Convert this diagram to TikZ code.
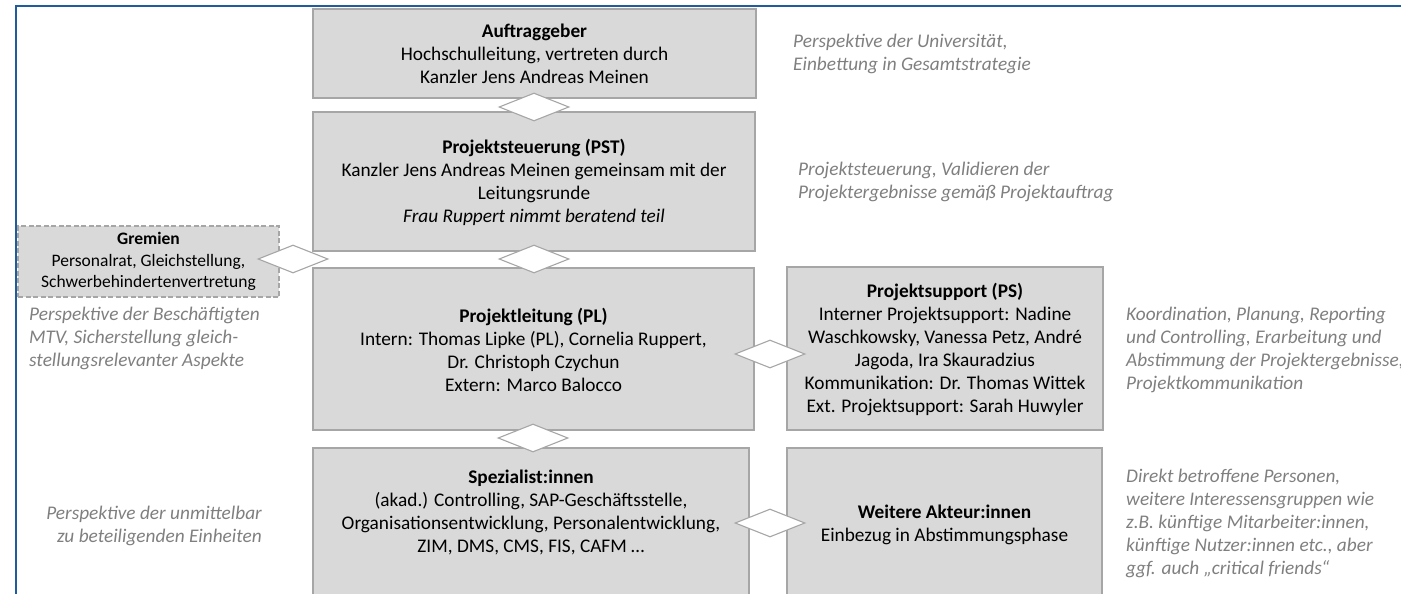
\documentclass[tikz,border=0pt]{standalone}
\usepackage{fontspec}
\setmainfont{Carlito}
\usetikzlibrary{shapes.geometric}
\definecolor{boxfill}{HTML}{D9D9D9}
\definecolor{boxline}{HTML}{A6A6A6}
\definecolor{notegray}{HTML}{7F7F7F}
\definecolor{framebl}{HTML}{1F5C9E}
\tikzset{
  box/.style={draw=boxline, fill=boxfill, line width=1.3pt, inner sep=0pt},
  dbox/.style={box, dashed, dash pattern=on 5pt off 2.5pt},
  link/.style={diamond, draw=boxline, fill=white, line width=1.1pt, inner sep=0pt, minimum width=70pt, minimum height=28pt},
  body/.style={align=center, font=\fontsize{19.3}{23}\selectfont, inner sep=0pt},
  smallbody/.style={align=center, font=\fontsize{17.5}{21.5}\selectfont, inner sep=0pt},
  note/.style={text=notegray, font=\fontsize{19.3}{23}\selectfont\itshape, inner sep=0pt},
}
\begin{document}
\begin{tikzpicture}[x=1pt,y=-1pt]
\useasboundingbox (0,0) rectangle (1401,594);
\clip (0,0) rectangle (1401,594);
% frame
\draw[framebl, line width=2.6pt] (16,620) -- (16,6) -- (1420,6);
% boxes
\node[box, minimum width=443pt, minimum height=89pt] (auf) at (534.5,53.5) {};
\node[box, minimum width=442pt, minimum height=139pt] (pst) at (534,181.5) {};
\node[box, minimum width=441pt, minimum height=162pt] (pl) at (533.5,349) {};
\node[box, minimum width=436pt, minimum height=172pt] (spez) at (531,534) {};
\node[box, minimum width=316pt, minimum height=163pt] (ps) at (945,348.5) {};
\node[box, minimum width=315pt, minimum height=172pt] (weit) at (944.5,534) {};
\node[dbox, minimum width=261pt, minimum height=71pt] (grem) at (148.5,261.5) {};
% texts
\node[body] (auft) at (auf) {\textbf{Auftraggeber}\\Hochschulleitung, vertreten durch\\Kanzler Jens Andreas Meinen};
\node[body] (pstt) at (534,182.5) {\textbf{Projektsteuerung (PST)}\\Kanzler Jens Andreas Meinen gemeinsam mit der\\Leitungsrunde\\\textit{Frau Ruppert nimmt beratend teil}};
\node[body] (plt) at (533.5,350) {\textbf{Projektleitung (PL)}\\Intern: Thomas Lipke (PL), Cornelia Ruppert,\\Dr. Christoph Czychun\\Extern: Marco Balocco};
\node[body] (spezt) at (531,512.5) {\textbf{Spezialist:innen}\\(akad.) Controlling, SAP-Geschäftsstelle,\\Organisationsentwicklung, Personalentwicklung,\\ZIM, DMS, CMS, FIS, CAFM …};
\node[body] (pst2) at (945,349.5) {\textbf{Projektsupport (PS)}\\Interner Projektsupport: Nadine\\Waschkowsky, Vanessa Petz, André\\Jagoda, Ira Skauradzius\\Kommunikation: Dr. Thomas Wittek\\Ext. Projektsupport: Sarah Huwyler};
\node[body] (weitt) at (944.5,524.5) {\textbf{Weitere Akteur:innen}\\Einbezug in Abstimmungsphase};
\node[smallbody] (gremt) at (grem) {\textbf{Gremien}\\Personalrat, Gleichstellung,\\Schwerbehindertenvertretung};
% diamonds (links)
\node[link] (l1) at (534,107) {};
\node[link] (l2) at (534,259) {};
\node[link] (lg) at (293,259) {};
\node[link] (l3) at (533,438) {};
\node[link] (l4) at (770,354) {};
\node[link] (l5) at (770,523) {};
% notes
\node[note, anchor=west, align=left] (n1) at (793,54) {Perspektive der Universität,\\Einbettung in Gesamtstrategie};
\node[note, anchor=west, align=left] (n2) at (798,182) {Projektsteuerung, Validieren der\\Projektergebnisse gemäß Projektauftrag};
\node[note, anchor=west, align=left] (n3) at (29,338) {Perspektive der Beschäftigten\\MTV, Sicherstellung gleich-\\stellungsrelevanter Aspekte};
\node[note, anchor=east, align=right] (n4) at (262,525.5) {Perspektive der unmittelbar\\zu beteiligenden Einheiten};
\node[note, anchor=west, align=left] (n5) at (1126,349.5) {Koordination, Planung, Reporting\\und Controlling, Erarbeitung und\\Abstimmung der Projektergebnisse,\\Projektkommunikation};
\node[note, anchor=west, align=left] (n6) at (1126,523.5) {Direkt betroffene Personen,\\weitere Interessensgruppen wie\\z.B. künftige Mitarbeiter:innen,\\künftige Nutzer:innen etc., aber\\ggf. auch „critical friends“};
\end{tikzpicture}
\end{document}
